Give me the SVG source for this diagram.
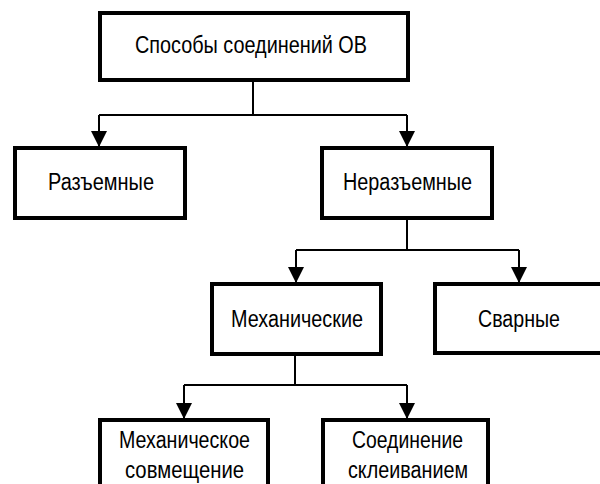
<svg xmlns="http://www.w3.org/2000/svg" width="600" height="484" viewBox="0 0 600 484">
<defs>
<marker id="ah" viewBox="0 0 16 16" refX="16" refY="8" markerWidth="16" markerHeight="16" markerUnits="userSpaceOnUse" orient="auto">
<path d="M0,0 L16,8 L0,16 Z" fill="#000"/>
</marker>
<style>
.box{fill:#fff;stroke:#000;stroke-width:4}
.t{font-family:"Liberation Sans",Arial,sans-serif;font-size:23px;fill:#000;text-anchor:middle}
.c{fill:none;stroke:#000;stroke-width:2}
</style>
</defs>
<rect width="600" height="484" fill="#fff"/>
<g id="connectors">
<path class="c" d="M253,80 V115"/>
<path class="c" d="M99,115 H407"/>
<path class="c" d="M99,115 V147" marker-end="url(#ah)"/>
<path class="c" d="M407,115 V147" marker-end="url(#ah)"/>
<path class="c" d="M407,218 V250"/>
<path class="c" d="M296,250 H519"/>
<path class="c" d="M296,250 V283" marker-end="url(#ah)"/>
<path class="c" d="M519,250 V283" marker-end="url(#ah)"/>
<path class="c" d="M295,354 V385"/>
<path class="c" d="M184,385 H407"/>
<path class="c" d="M184,385 V419" marker-end="url(#ah)"/>
<path class="c" d="M407,385 V419" marker-end="url(#ah)"/>
</g>
<g id="root">
<rect class="box" x="100" y="13" width="308" height="67"/>
<text class="t" x="251" y="53" textLength="232" lengthAdjust="spacingAndGlyphs">Способы соединений ОВ</text>
</g>
<g id="razemnye">
<rect class="box" x="15" y="148" width="170" height="70"/>
<text class="t" x="101" y="190" textLength="106" lengthAdjust="spacingAndGlyphs">Разъемные</text>
</g>
<g id="nerazemnye">
<rect class="box" x="322" y="148" width="170" height="70"/>
<text class="t" x="407.5" y="190" textLength="129" lengthAdjust="spacingAndGlyphs">Неразъемные</text>
</g>
<g id="mekhanicheskie">
<rect class="box" x="212" y="284" width="169" height="70"/>
<text class="t" x="297" y="327" textLength="132" lengthAdjust="spacingAndGlyphs">Механические</text>
</g>
<g id="svarnye">
<rect class="box" x="435" y="284" width="175" height="69"/>
<text class="t" x="519" y="327" textLength="82" lengthAdjust="spacingAndGlyphs">Сварные</text>
</g>
<g id="mekh-sovmeshchenie">
<rect class="box" x="100" y="420" width="168" height="80"/>
<text class="t" x="184.5" y="448" textLength="131" lengthAdjust="spacingAndGlyphs">Механическое</text>
<text class="t" x="184.5" y="478" textLength="119" lengthAdjust="spacingAndGlyphs">совмещение</text>
</g>
<g id="skleivanie">
<rect class="box" x="323" y="420" width="165" height="80"/>
<text class="t" x="407.5" y="448" textLength="111" lengthAdjust="spacingAndGlyphs">Соединение</text>
<text class="t" x="408" y="478" textLength="120" lengthAdjust="spacingAndGlyphs">склеиванием</text>
</g>
</svg>
